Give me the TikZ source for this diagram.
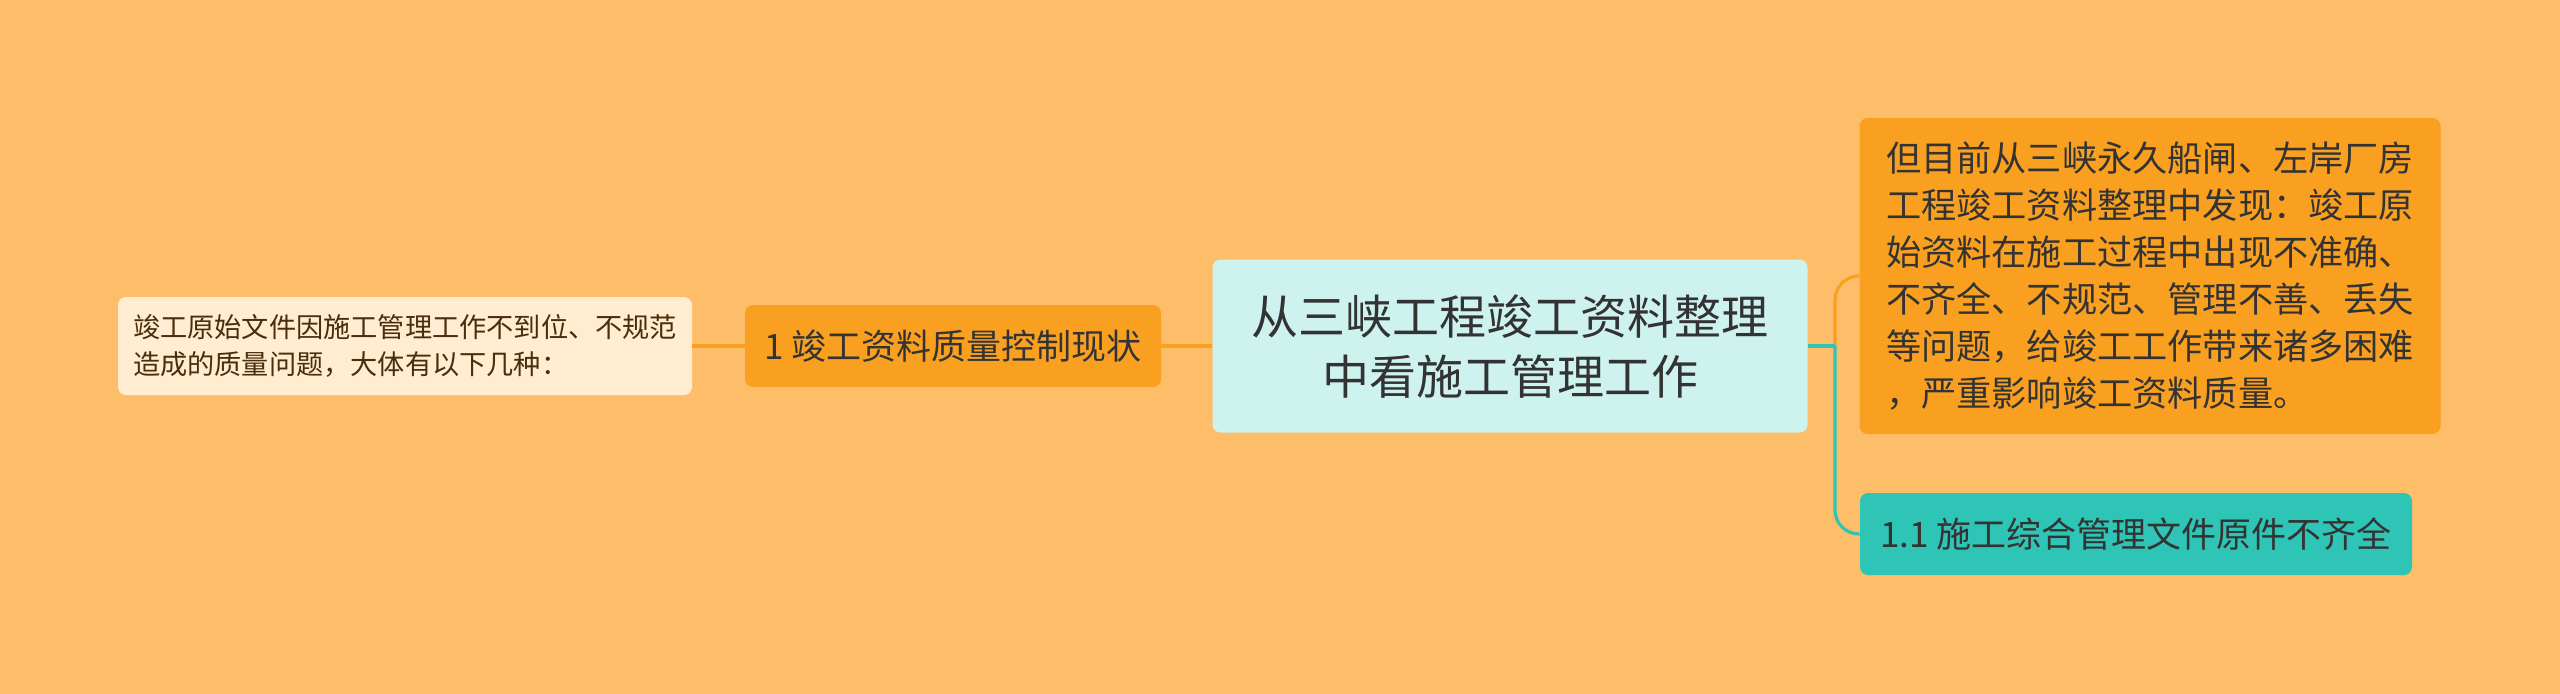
\documentclass[tikz,border=0pt]{standalone}
\usepackage{fontspec}
\newfontfamily\cjk{Noto Sans CJK SC}
\definecolor{bgc}{RGB}{254,190,105}
\definecolor{orangec}{RGB}{250,160,32}
\definecolor{tealc}{RGB}{46,196,182}
\definecolor{rootc}{RGB}{206,243,239}
\definecolor{creamc}{RGB}{255,236,209}
\definecolor{txtc}{RGB}{51,51,51}
\definecolor{browntxt}{RGB}{74,46,12}
\tikzset{
  box/.style={rounded corners=4pt, inner sep=0pt, text=txtc},
  rootbox/.style={box, fill=rootc, minimum width=297.5pt, minimum height=86.5pt, align=center,
    font=\cjk\fontsize{23.5}{30}\selectfont},
  branchbox/.style={box, fill=orangec, minimum width=208pt, minimum height=41pt,
    font=\cjk\fontsize{17.5}{23.5}\selectfont},
  leafbox/.style={box, fill=creamc, text=browntxt, minimum width=287pt, minimum height=49pt, align=left,
    font=\cjk\fontsize{13.6}{18.8}\selectfont},
  notebox/.style={box, fill=orangec, minimum width=290.5pt, minimum height=158pt, align=left,
    font=\cjk\fontsize{17.6}{23.5}\selectfont},
  subbox/.style={box, fill=tealc, minimum width=276pt, minimum height=41pt,
    font=\cjk\fontsize{17.5}{23.5}\selectfont},
  link/.style={line width=1.6pt, orangec},
  tlink/.style={line width=1.6pt, tealc}
}
\begin{document}
\begin{tikzpicture}[x=0.5pt,y=-0.5pt]
\useasboundingbox (0,0) rectangle (2560,693);
\fill[bgc] (-10,-10) rectangle (2570,703);
\node[rootbox] (root) at (1510,346) {从三峡工程竣工资料整理\\中看施工管理工作};
\node[branchbox] (b1) at (953,346) {1 竣工资料质量控制现状};
\node[leafbox] (v0) at (405,346) {竣工原始文件因施工管理工作不到位、不规范\\造成的质量问题，大体有以下几种：};
\node[notebox] (v1) at (2150,276) {但目前从三峡永久船闸、左岸厂房\\工程竣工资料整理中发现：竣工原\\始资料在施工过程中出现不准确、\\不齐全、不规范、管理不善、丢失\\等问题，给竣工工作带来诸多困难\\，严重影响竣工资料质量。};
\node[subbox] (v2) at (2136,534) {1.1 施工综合管理文件原件不齐全};
\coordinate (j) at (1835,346);
\draw[link] (v0) -- (b1);
\draw[link] (b1) -- (root);
\draw[link, rounded corners=12pt] (j) |- (v1.west);
\draw[tlink] (root.east) -- (j);
\draw[tlink, rounded corners=12pt] (j) |- (v2.west);
\end{tikzpicture}
\end{document}
